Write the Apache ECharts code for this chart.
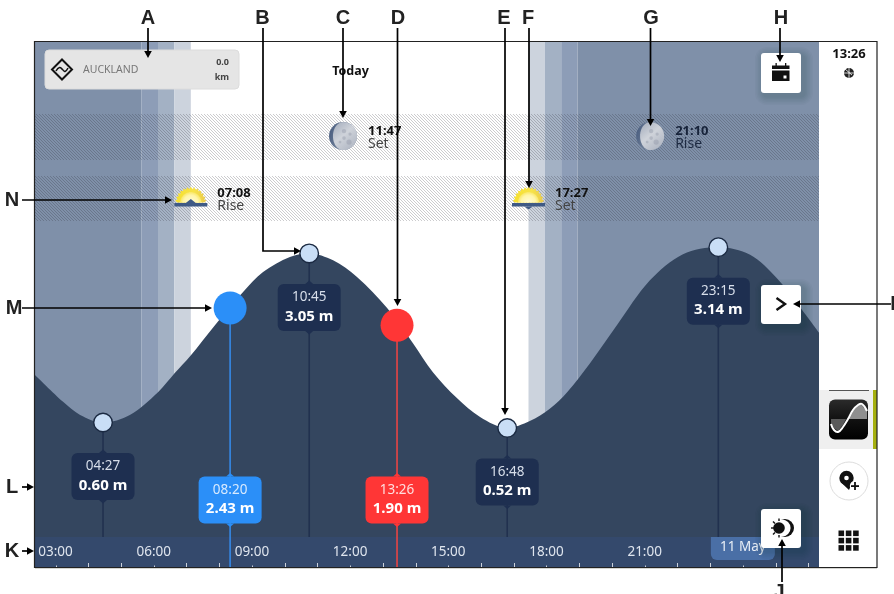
<!DOCTYPE html>
<html><head><meta charset="utf-8">
<style>html,body{margin:0;padding:0;background:#fff}#c{width:894px;height:594px}</style>
<script src="https://cdn.jsdelivr.net/npm/echarts@6/dist/echarts.min.js"></script>
</head><body><div id="c"></div>
<script>
// ---- data ----
const tideHours  = [2.37,3.23,3.75,4.45,5.27,6.13,6.65,7.11,7.87,8.73,9.34,10.16,10.75,11.48,12.21,13.13,13.92,14.53,15.27,15.97,16.80,17.49,18.10,18.63,19.33,20.15,21.16,22.17,23.25,24.22,25.04,25.81,26.33];
const tideMeters = [1.29,0.90,0.71,0.60,0.71,1.04,1.32,1.56,2.01,2.49,2.78,3.00,3.05,2.95,2.71,2.26,1.75,1.33,0.95,0.68,0.52,0.62,0.80,1.04,1.46,2.01,2.66,3.04,3.14,3.03,2.69,2.23,1.90];
const extremeTimes  = ['04:27','10:45','16:48','23:15'];
const extremeMeters = [0.60,3.05,0.52,3.14];
const cursorTimes   = ['08:20','13:26'];
const cursorMeters  = [2.43,1.90];
const cursorDotLevel= [2.26,2.01];
const twilightStart = [2.372,5.62,6.13,6.63,7.133,17.45,17.95,18.45,18.95];
const twilightEnd   = [5.62,6.13,6.63,7.133,7.133,17.95,18.45,18.95,26.326];
const astroTimes = ['07:08','11:47','17:27','21:10'];
const astroKinds = ['sun','moon','sun','moon'];
const astroWords = ['Rise','Set','Set','Rise'];
const hourLabels = [3,6,9,12,15,18,21];
const hourTicks  = [4,5,7,8,10,11,13,14,16,17,19,20,22,23,25,26];
const shortTicks = [3,6,9,12,15,18,21,24];
const nextDayHour = 24, nextDayLabel = '11 May';
const placeName = 'AUCKLAND', distanceValue = '0.0', distanceUnit = 'km', dayWord = 'Today', clockNow = '13:26';

// ---- scale limits & styles ----
const X_MIN = 2.372, X_MAX = 26.326, Y_MIN = -1.494, Y_MAX = 6.114;
const hatchRows = [[5.071,4.404],[4.172,3.52]];
const stripTop = -1.059;
const moonRow = 4.75, sunRow = 3.853;
const FONT = '"Noto Sans"';
const bandColors = ['#7f90a9','#8d9db7','#a3b1c4','#ccd3dd','#fff','#ccd3dd','#a3b1c4','#8d9db7','#7f90a9'];
const DARK='#34465f', STRIP='#34496c', BOX='#1e2f50';
const toH = s => { const [h,m]=s.split(':').map(Number); return h+m/60; };

const tile = document.createElement('canvas'); tile.width=3; tile.height=3;
(function(){const c=tile.getContext('2d');c.strokeStyle='rgba(40,40,50,0.24)';c.lineWidth=1;
 c.beginPath();c.moveTo(-1,-1);c.lineTo(4,4);c.moveTo(-1,2);c.lineTo(1,4);c.moveTo(2,-1);c.lineTo(4,1);c.stroke();})();

function txt(t,x,y,size,fill,weight,align,family){return {type:'text',style:{text:t,x,y:y+(family?0:1),fill,font:(weight||'normal')+' '+size+'px '+(family||FONT),textAlign:align||'left',textVerticalAlign:'middle'}};}
function rect(x,y,w,h,fill,r,extra){return Object.assign({type:'rect',shape:{x,y,width:w,height:h,r:r||0},style:Object.assign({fill},extra||{})});}
function poly(points,fill){return {type:'polygon',shape:{points},style:{fill}};}
function pline(points,stroke,lw,smooth){return {type:'polyline',shape:{points,smooth:smooth||0},style:{stroke,lineWidth:lw,fill:null}};}
function circ(cx,cy,r,fill,stroke,lw){return {type:'circle',shape:{cx,cy,r},style:{fill:fill||null,stroke:stroke||null,lineWidth:lw||0}};}

function bandsItem(p,api){
  const a=api.coord([api.value(0),Y_MAX]),b=api.coord([api.value(1),Y_MIN]);
  return rect(a[0],a[1],b[0]-a[0],b[1]-a[1],bandColors[p.dataIndex]);
}
function hatchItem(p,api){
  const a=api.coord([X_MIN,api.value(0)]),b=api.coord([X_MAX,api.value(1)]);
  return rect(a[0],a[1],b[0]-a[0],b[1]-a[1],{image:tile,repeat:'repeat'});
}
function stripItem(p,api){
  const a=api.coord([X_MIN,stripTop]),b=api.coord([X_MAX,Y_MIN]);
  return rect(a[0],a[1],b[0]-a[0],b[1]-a[1],STRIP);
}
function tickItem(len){
  return function(p,api){
    const b=api.coord([api.value(0),Y_MIN]);
    return {type:'line',shape:{x1:Math.round(b[0])+.5,y1:b[1],x2:Math.round(b[0])+.5,y2:b[1]-len},style:{stroke:'rgba(255,255,255,.75)',lineWidth:1}};
  };
}
function labelBox(x,cy,fill,t,v,tc){
  return [rect(x-31.5,cy-23.5,63,47,fill,6),
    poly([[x-4,cy-23.5],[x,cy-27],[x+4,cy-23.5]],fill),
    poly([[x-4,cy+23.5],[x,cy+27],[x+4,cy+23.5]],fill),
    txt(t,x,cy-11,13.5,tc,'normal','center'),
    txt(v,x,cy+8,15,'#fff','bold','center')];
}
function extremeItem(p,api){
  const i=p.dataIndex,c=api.coord([api.value(0),api.value(1)]),bot=api.coord([0,stripTop])[1];
  const stem={type:'line',shape:{x1:c[0],y1:c[1],x2:c[0],y2:bot},style:{stroke:'#21314f',lineWidth:1.6}};
  return {type:'group',children:[stem].concat(labelBox(c[0],c[1]+54,BOX,extremeTimes[i],extremeMeters[i].toFixed(2)+' m','#d7deea'),
    [circ(c[0],c[1],9.3,'#c9def6','#1b2a42',1.4)])};
}
const cursorColors=[['#2b8ff8','#3589e6','#d8eafe'],['#ff3636','#e84444','#ffdede']];
function cursorItem(p,api){
  const i=p.dataIndex,c=api.coord([api.value(0),api.value(1)]),bot=api.coord([0,Y_MIN])[1],col=cursorColors[i];
  const stem={type:'line',shape:{x1:c[0],y1:c[1],x2:c[0],y2:bot},style:{stroke:col[1],lineWidth:1.6}};
  return {type:'group',children:[stem].concat(labelBox(c[0],bot-67,col[0],cursorTimes[i],cursorMeters[i].toFixed(2)+' m',col[2]),
    [circ(c[0],c[1],16.5,col[0])])};
}
function sunIcon(x,cy,rise){
  const y0=cy+4.5,pts=[],n=13;
  for(let k=0;k<=2*n;k++){const a=Math.PI*k/(2*n),R=k%2?15.8:13.6;pts.push([x-Math.cos(a)*R,y0-Math.sin(a)*R]);}
  const half=(r)=>{const q=[];for(let k=0;k<=24;k++){const a=Math.PI*k/24;q.push([x-Math.cos(a)*r,y0-Math.sin(a)*r]);}return q;};
  const out=[poly(pts,{type:'linear',x:0,y:0,x2:1,y2:0,colorStops:[{offset:0,color:'#f6e02e'},{offset:.6,color:'#f7e348'},{offset:1,color:'#e9c94d'}]}),
    poly(half(10.5),{type:'radial',x:.5,y:1,r:1,colorStops:[{offset:0,color:'#fffbd6'},{offset:.7,color:'#fff5a8'},{offset:1,color:'#f9e766'}]}),
    rect(x-16.5,y0+0.5,33,3.4,'#3f5a85')];
  out.push(rise?poly([[x-5,y0+.5],[x,y0-3.5],[x+5,y0+.5]],'#3f5a85'):poly([[x-4,y0+3.9],[x,y0+7],[x+4,y0+3.9]],'#3f5a85'));
  return out;
}
function moonIcon(x,cy){
  const r=14,pts=[];
  for(let k=-12;k<=12;k++){const a=Math.PI*k/24;pts.push([x+Math.cos(a)*r,cy+Math.sin(a)*r]);}
  for(let k=12;k>=-12;k--){const a=Math.PI*k/24;pts.push([x-Math.cos(a)*r*0.72,cy+Math.sin(a)*r]);}
  const s=(dx,dy,q)=>circ(x+dx,cy+dy,q,'rgba(130,138,155,0.32)');
  return [circ(x,cy,r,{type:'linear',x:0,y:0,x2:1,y2:.3,colorStops:[{offset:0,color:'#41567a'},{offset:.5,color:'#6f7f98'},{offset:1,color:'#8794a8'}]}),
    poly(pts,{type:'linear',x:0,y:0,x2:1,y2:1,colorStops:[{offset:0,color:'#a2abbb'},{offset:.45,color:'#cfd3da'},{offset:1,color:'#a9b0be'}]}),
    s(1,-5,2.2),s(7,-2,1.6),s(1,2,1.8),s(6,6,2.6),s(-3,6,1.4)];
}
function astroItem(p,api){
  const i=p.dataIndex,sun=astroKinds[i]==='sun';
  const c=api.coord([api.value(0),sun?sunRow:moonRow]),x=c[0],cy=c[1],off=sun?26.5:25,onNight=x>600;
  const icon=sun?sunIcon(x,cy,astroWords[i]==='Rise'):moonIcon(x,cy);
  return {type:'group',children:icon.concat([
    txt(astroTimes[i],x+off,cy-5.5,13,onNight?'#17233a':'#111','bold'),
    txt(astroWords[i],x+off,cy+7,14,onNight?'#1d2a42':'#444')])};
}
function dayTagItem(p,api){
  const x=api.coord([api.value(0),0])[0],a=api.coord([0,stripTop])[1];
  return {type:'group',children:[rect(x-32,a,64,23,'#4a6fa6',[0,0,6,6]),txt(nextDayLabel,x,a+9.5,13.5,'#e8eef6','normal','center')]};
}

const zBase={xAxisIndex:0,yAxisIndex:0,animation:false,silent:true,tooltip:{show:false}};
const series=[
  Object.assign({type:'custom',z:1,renderItem:bandsItem,encode:{x:0,y:1},data:twilightStart.map((s,i)=>[s,twilightEnd[i]])},zBase),
  Object.assign({type:'custom',z:2,renderItem:hatchItem,encode:{y:0},data:hatchRows},zBase),
  Object.assign({type:'line',z:3,data:tideHours.map((h,i)=>[h,tideMeters[i]]),smooth:0.33,smoothConstraint:false,showSymbol:false,symbol:'none',
    lineStyle:{width:0,color:DARK},itemStyle:{color:DARK},areaStyle:{color:DARK,opacity:1,origin:'start'}},zBase),
  Object.assign({type:'custom',z:4,renderItem:stripItem,data:[[0]]},zBase),
  Object.assign({type:'custom',z:5,renderItem:astroItem,data:astroTimes.map(t=>[toH(t)])},zBase),
  Object.assign({type:'custom',z:6,renderItem:dayTagItem,data:[[nextDayHour]]},zBase),
  Object.assign({type:'custom',z:7,renderItem:tickItem(4),data:hourTicks.map(h=>[h])},zBase),
  Object.assign({type:'custom',z:7,renderItem:tickItem(1.5),data:shortTicks.map(h=>[h])},zBase),
  Object.assign({type:'custom',z:12,renderItem:extremeItem,data:extremeTimes.map((t,i)=>[toH(t),extremeMeters[i]])},zBase),
  Object.assign({type:'custom',z:13,renderItem:cursorItem,data:cursorTimes.map((t,i)=>[toH(t),cursorDotLevel[i]])},zBase)
];

// ---- chrome drawn around the chart ----
const Z=100, g=[];
function add(el){el.z=Z+g.length*0.001;el.silent=true;g.push(el);return el;}
const W=894,H=594;
// button shadows (stacked translucent layers, under the sidebar)
function softShadow(x,y,w,h){for(let k=9;k>=1;k-=1.5)add(rect(x+3-k,y+3-k,w+2*k,h+2*k,'rgba(15,25,45,0.028)',3+k));}
softShadow(761,53,40,40);softShadow(761,285,40,39);softShadow(761,509,40,39);
add(rect(819,42,58,525,'#fff'));
add(rect(819,390,54,59,'#efefef'));
add(rect(873,390,4,59,'#a6b00f'));
add({type:'line',shape:{x1:829,y1:390.5,x2:869,y2:390.5},style:{stroke:'#555',lineWidth:1}});
// frame
add({type:'rect',shape:{x:34.5,y:41.5,width:842.5,height:526},style:{fill:null,stroke:'#222',lineWidth:1.2}});
add({type:'line',shape:{x1:35,y1:568.5,x2:877,y2:568.5},style:{stroke:'#d4d4d0',lineWidth:1}});
// location card
add(rect(45,50,194,39,'#e5e5e5',4,{stroke:'#dcdcdc',lineWidth:1}));
add({type:'polygon',shape:{points:[[62,59.5],[72,69.5],[62,79.5],[52,69.5]]},style:{fill:null,stroke:'#111',lineWidth:2}});
add(pline([[56,71],[59.5,67.5],[63,70],[65,71.5],[68,68]],'#111',1.5,0.5));
add(txt(placeName,83,69.5,10.5,'#777'));
add(txt(distanceValue,229,61.5,9,'#444','bold','right'));
add(txt(distanceUnit,229,76.5,9,'#444','bold','right'));
add(txt(dayWord,350.5,70.5,12.5,'#111','bold','center'));
// buttons
add(rect(761,53,40,40,'#fff',3));
add(rect(772,65.5,17.5,3.5,'#111'));
add(rect(772,70.5,17.5,10.5,'#111'));
add(rect(775.5,63,1.3,3,'#111'));add(rect(785,63,1.3,3,'#111'));
add(rect(783.5,75.5,3,3,'#fff'));
add(rect(761,285,40,39,'#fff',3));
add(pline([[776.5,298],[785,304],[776.5,310]],'#111',2.4));
add(rect(761,509,40,39,'#fff',3));
add(circ(785,528,9,'#111'));add(circ(782,528,8.6,'#fff'));add(circ(779,528,5.8,'#111'));
[[771,528,774,528],[773,521.5,775,523.5],[779,518.5,779,521],[773,534.5,775,532.5],[779,535,779,537.5]].forEach(a=>add({type:'line',shape:{x1:a[0],y1:a[1],x2:a[2],y2:a[3]},style:{stroke:'#111',lineWidth:1.4}}));
// sidebar
add(txt(clockNow,849,53,13,'#111','bold','center'));
add(circ(849,73,5,'#222'));
add(pline([[844,73],[854,73]],'#fff',.8));add(pline([[849,68],[849,78]],'#fff',.8));add(pline([[845,69],[852,75]],'#fff',.8));
add(rect(829,399.5,39,40,{type:'linear',x:0,y:0,x2:0,y2:1,colorStops:[{offset:0,color:'#2b2b2b'},{offset:.5,color:'#111'},{offset:1,color:'#000'}]},6));
add(poly([[831,419],[867,419],[867,411],[861,404.5],[857,406],[853,411],[850,415],[848,419]],'#8f8f8f'));
add(poly([[831,419],[846,419],[843,425],[838,431],[834,428],[831,424]],'#5a5a5a'));
add(pline([[831,424],[834,430],[838,432],[843,427],[848,419],[853,410],[858,405],[862,404],[867,411]],'#fff',2,0.45));
add(circ(849,481,19,'#fff','#ddd',1));
add(circ(846.5,478,7.2,'#111'));add(poly([[840.5,482],[852.5,482],[849,490]],'#111'));add(circ(846.5,478,2.3,'#fff'));
add(circ(855,486,5.2,'#fff'));add(rect(851,485.2,8,1.8,'#111'));add(rect(854.1,482,1.8,8,'#111'));
for(let r=0;r<3;r++)for(let c=0;c<3;c++)add(rect(838.5+c*7.3,530.5+r*7.3,5.6,5.6,'#111'));
// call-outs
function arrow(pts){
  const n=pts.length,a=pts[n-2],b=pts[n-1],L=Math.hypot(b[0]-a[0],b[1]-a[1]),ux=(b[0]-a[0])/L,uy=(b[1]-a[1])/L,bx=b[0]-ux*7,by=b[1]-uy*7;
  add(pline(pts.slice(0,n-1).concat([[bx,by]]),'#000',1.7));
  add(poly([b,[bx-uy*3.8,by+ux*3.8],[bx+uy*3.8,by-ux*3.8]],'#000'));
}
const calloutFont='"Liberation Sans"';
[['A',148,18],['B',262.5,18],['C',343,18],['D',398,18],['E',504,18],['F',528,18],['G',651,18],['H',781,18],['N',12,200],['M',14,308],['L',12,487.5],['K',12,551.5],['I',893,304.5],['J',779,592]]
 .forEach(a=>add(txt(a[0],a[1],a[2],20,'#222','bold','center',calloutFont)));
arrow([[148,28],[148,58]]);
arrow([[263,28],[263,251],[301,251]]);
arrow([[343,28],[343,118]]);
arrow([[397.5,28],[397.5,306]]);
arrow([[505,28],[505,415]]);
arrow([[529,28],[529,188]]);
arrow([[650.5,28],[650.5,126]]);
arrow([[780,28],[780,62]]);
arrow([[22,200],[172,200]]);
arrow([[22,308],[212,308]]);
arrow([[22,487],[34,487]]);
arrow([[22,551],[34,551]]);
arrow([[891,304],[793,304]]);
arrow([[782,582],[782,539]]);

const chart=echarts.init(document.getElementById('c'),null,{renderer:'canvas',width:W,height:H});
chart.setOption({
  animation:false,backgroundColor:'#fff',
  grid:{left:35,right:75,top:42,bottom:27,containLabel:false},
  xAxis:{type:'value',min:X_MIN,max:X_MAX,z:10,splitLine:{show:false},axisLine:{show:false},axisTick:{show:false},
    axisLabel:{show:true,inside:true,margin:8,customValues:hourLabels,color:'#dfe5ee',fontSize:13.5,fontFamily:FONT,hideOverlap:false,
      formatter:v=>String(v).padStart(2,'0')+':00'}},
  yAxis:{type:'value',min:Y_MIN,max:Y_MAX,show:false,splitLine:{show:false}},
  series:series,
  graphic:{elements:g}
});
</script></body></html>
